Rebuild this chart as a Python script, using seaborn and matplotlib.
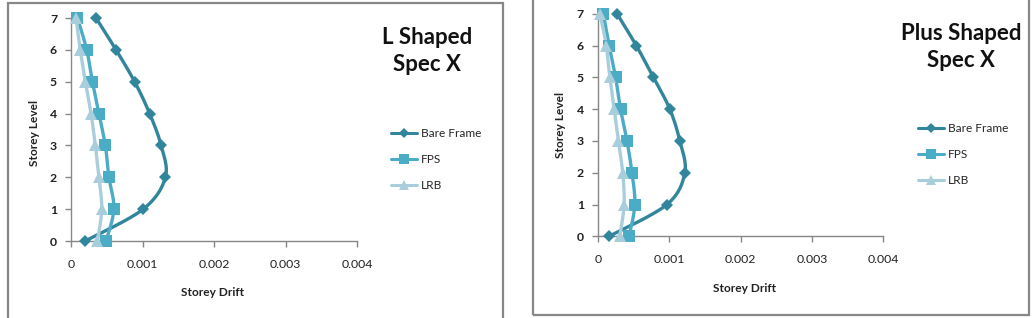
import numpy as np
import pandas as pd
import matplotlib
matplotlib.use("Agg")
import matplotlib.pyplot as plt
from matplotlib.lines import Line2D
from matplotlib.patches import Rectangle
import seaborn as sns

# ---------------- data ----------------
storey = [0, 1, 2, 3, 4, 5, 6, 7]
series_names = ["Bare Frame", "FPS", "LRB"]

l_bare = [0.00020, 0.00101, 0.00132, 0.00126, 0.00110, 0.00089, 0.00063, 0.00035]
l_fps = [0.00049, 0.00060, 0.00053, 0.00048, 0.00039, 0.00030, 0.00022, 0.00009]
l_lrb = [0.00037, 0.00043, 0.00039, 0.00034, 0.00028, 0.00020, 0.00013, 0.00007]

p_bare = [0.00016, 0.00097, 0.00122, 0.00115, 0.00101, 0.00078, 0.00054, 0.00027]
p_fps = [0.00044, 0.00052, 0.00048, 0.00041, 0.00032, 0.00025, 0.00016, 0.00008]
p_lrb = [0.00031, 0.00037, 0.00035, 0.00029, 0.00023, 0.00017, 0.00012, 0.00003]

x_ticks = [0, 0.001, 0.002, 0.003, 0.004]
x_tick_labels = ["0", "0.001", "0.002", "0.003", "0.004"]
y_ticks = [0, 1, 2, 3, 4, 5, 6, 7]

titles = ["L Shaped\nSpec X", "Plus Shaped\nSpec X"]

# ---------------- style ----------------
sns.set_theme(style="white")
plt.rcParams["font.family"] = ["Lato", "DejaVu Sans"]

colors = {"Bare Frame": "#31859C", "FPS": "#4BACC6", "LRB": "#A9CEDB"}
markers = {"Bare Frame": "D", "FPS": "s", "LRB": "^"}
msizes = {"Bare Frame": 6, "FPS": 9, "LRB": 9}


def smooth(xs, ys, n=20):
    """Excel-like smoothed curve (Catmull-Rom style Bezier) through data points."""
    P = np.column_stack([xs, ys]).astype(float)
    Pe = np.vstack([P[0], P, P[-1]])
    out = []
    t = np.linspace(0, 1, n)[:, None]
    for i in range(len(P) - 1):
        p0, p1, p2, p3 = Pe[i], Pe[i + 1], Pe[i + 2], Pe[i + 3]
        b1 = p1 + (p2 - p0) / 6.0
        b2 = p2 - (p3 - p1) / 6.0
        seg = ((1 - t) ** 3) * p1 + 3 * ((1 - t) ** 2) * t * b1 + 3 * (1 - t) * t ** 2 * b2 + t ** 3 * p2
        out.append(seg if i == 0 else seg[1:])
    seg = np.vstack(out)
    return seg[:, 0], seg[:, 1]


W, H = 1034, 318
fig = plt.figure(figsize=(W / 100, H / 100), dpi=100)

# panel frames (in pixels)
def frame(x0, y0, x1, y1):
    fig.patches.append(Rectangle((x0 / W, 1 - y1 / H), (x1 - x0) / W, (y1 - y0) / H,
                                 transform=fig.transFigure, fill=False,
                                 edgecolor="#878787", linewidth=1.6))

frame(7.5, 3, 503, 330)
frame(533, -10, 1029, 315)

panels = [
    dict(data=[l_bare, l_fps, l_lrb], ax=(71, 18, 357, 241), title=titles[0],
         title_xy=(427, 51), leg=(395, 135), ylab=(34, 133), xlab=(213, 293)),
    dict(data=[p_bare, p_fps, p_lrb], ax=(597.7, 13.7, 883.3, 236.3), title=titles[1],
         title_xy=(961, 47), leg=(922, 130), ylab=(560, 125), xlab=(745, 289)),
]

for pnl in panels:
    x0, y0, x1, y1 = pnl["ax"]
    ax = fig.add_axes([x0 / W, 1 - y1 / H, (x1 - x0) / W, (y1 - y0) / H])
    for name, vals in zip(series_names, pnl["data"]):
        sx, sy = smooth(vals, storey)
        df = pd.DataFrame({"drift": sx, "level": sy})
        sns.lineplot(data=df, x="drift", y="level", sort=False, estimator=None,
                     color=colors[name], linewidth=2.4, ax=ax)
        dp = pd.DataFrame({"drift": vals, "level": storey})
        ax.plot(dp["drift"], dp["level"], linestyle="none", marker=markers[name],
                markersize=msizes[name], color=colors[name], markeredgewidth=0,
                clip_on=False, zorder=5)
    ax.set_xlim(0, 0.004)
    ax.set_ylim(0, 7)
    ax.set_xticks(x_ticks)
    ax.set_xticklabels(x_tick_labels)
    ax.set_yticks(y_ticks)
    ax.set_xlabel("")
    ax.set_ylabel("")
    for s in ["top", "right"]:
        ax.spines[s].set_visible(False)
    for s in ["left", "bottom"]:
        ax.spines[s].set_color("#878787")
        ax.spines[s].set_linewidth(1.0)
    ax.tick_params(axis="both", which="major", direction="out", length=4, width=1.0,
                   color="#878787", labelsize=8.8, labelcolor="#222222", pad=3, bottom=True, left=True)
    ax.tick_params(axis="x", pad=9)
    ax.tick_params(axis="y", pad=6)
    for lab in ax.get_yticklabels():
        lab.set_fontweight("bold")
    ax.set_facecolor("none")

    # axis labels
    fig.text(pnl["ylab"][0] / W, 1 - pnl["ylab"][1] / H, "Storey Level", rotation=90,
             ha="center", va="center", fontsize=8.6, fontweight="bold", color="#222222")
    fig.text(pnl["xlab"][0] / W, 1 - pnl["xlab"][1] / H, "Storey Drift",
             ha="center", va="center", fontsize=8.6, fontweight="bold", color="#222222")
    # title
    fig.text(pnl["title_xy"][0] / W, 1 - pnl["title_xy"][1] / H, pnl["title"],
             ha="center", va="center", fontsize=16, fontweight="bold", color="#111111",
             linespacing=1.4)

    # legend
    handles = [Line2D([0], [0], color=colors[n], marker=markers[n], linewidth=2.2,
                      markersize=msizes[n] * 0.85, markeredgewidth=0) for n in series_names]
    lx, ly = pnl["leg"]
    fig.legend(handles, series_names, loc="upper left",
               bbox_to_anchor=((lx - 4) / W, 1 - (ly - 7) / H),
               frameon=False, fontsize=8.6, handlelength=2.2, handletextpad=0.3,
               labelspacing=1.25, borderpad=0, borderaxespad=0)

fig.savefig("out.png", dpi=100)
